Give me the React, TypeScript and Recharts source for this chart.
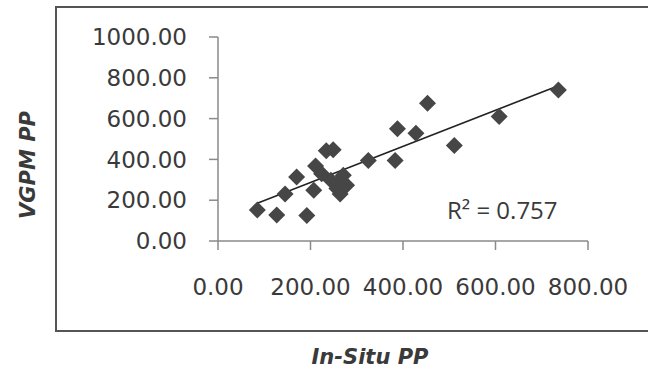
import { ScatterChart, Scatter, XAxis, YAxis, Label, ReferenceLine } from "recharts";

// In-Situ PP vs VGPM PP
const insituPP = [85, 127, 145, 170, 192, 207, 211, 224, 234, 249, 244, 257, 264, 271, 278, 260, 325, 383, 388, 428, 453, 511, 608, 736];
const vgpmPP = [152, 127, 230, 314, 125, 249, 368, 330, 442, 447, 298, 257, 230, 322, 273, 289, 395, 395, 550, 528, 675, 468, 610, 740];

// linear trendline end points
const trendX = [85, 736];
const trendY = [185, 761];

const xTicks = [0, 200, 400, 600, 800];
const yTicks = [0, 200, 400, 600, 800, 1000];
const rSquaredLabel = "R² = 0.757";

const points = insituPP.map((x, i) => ({ x, y: vgpmPP[i] }));

const TEXT = "#3a3a3a";
const AXIS = "#8a8a8a";
const tickFont = { fill: TEXT, fontSize: 23, fontFamily: "'DejaVu Sans'" };
const titleFont = {
  fill: TEXT,
  fontSize: 21,
  fontWeight: 700,
  fontStyle: "italic",
  fontFamily: "'DejaVu Sans'",
};

const Diamond = (props: any) => {
  const { cx, cy } = props;
  const r = 8.5;
  return (
    <polygon
      points={`${cx},${cy - r} ${cx + r},${cy} ${cx},${cy + r} ${cx - r},${cy}`}
      fill="#464646"
    />
  );
};

export default function App() {
  return (
    <div
      style={{
        position: "absolute",
        left: 0,
        top: 0,
        width: 648,
        height: 371,
        overflow: "hidden",
        background: "#fff",
      }}
    >
      <div
        style={{
          position: "absolute",
          left: 55,
          top: 6,
          width: 593,
          height: 322,
          border: "2px solid #555",
          borderRight: "none",
        }}
      />
      <ScatterChart width={648} height={371} margin={{ top: 37, right: 60, bottom: 90, left: 68 }}>
        <XAxis
          type="number"
          dataKey="x"
          domain={[0, 800]}
          ticks={xTicks}
          height={40}
          tickFormatter={(v: number) => v.toFixed(2)}
          tick={tickFont}
          tickSize={9}
          tickMargin={29}
          stroke={AXIS}
          strokeWidth={1.5}
        >
          <Label
            content={() => (
              <text x={370} y={357} textAnchor="middle" dominantBaseline="central" style={titleFont}>
                In-Situ PP
              </text>
            )}
          />
        </XAxis>
        <YAxis
          type="number"
          dataKey="y"
          domain={[0, 1000]}
          ticks={yTicks}
          width={150}
          tickFormatter={(v: number) => v.toFixed(2)}
          tick={tickFont}
          tickSize={9}
          tickMargin={22}
          stroke={AXIS}
          strokeWidth={1.5}
        >
          <Label
            content={() => (
              <text
                x={28}
                y={165}
                transform="rotate(-90 28 165)"
                textAnchor="middle"
                dominantBaseline="central"
                style={titleFont}
              >
                VGPM PP
              </text>
            )}
          />
        </YAxis>
        <ReferenceLine
          segment={[
            { x: trendX[0], y: trendY[0] },
            { x: trendX[1], y: trendY[1] },
          ]}
          stroke="#222"
          strokeWidth={1.5}
          ifOverflow="visible"
        />
        <Scatter data={points} shape={Diamond} isAnimationActive={false} />
      </ScatterChart>
      <div
        style={{
          position: "absolute",
          left: 447,
          top: 195,
          fontFamily: "'Open Sans'",
          fontSize: 24,
          lineHeight: "30px",
          color: TEXT,
          whiteSpace: "nowrap",
        }}
      >
        {rSquaredLabel}
      </div>
    </div>
  );
}
